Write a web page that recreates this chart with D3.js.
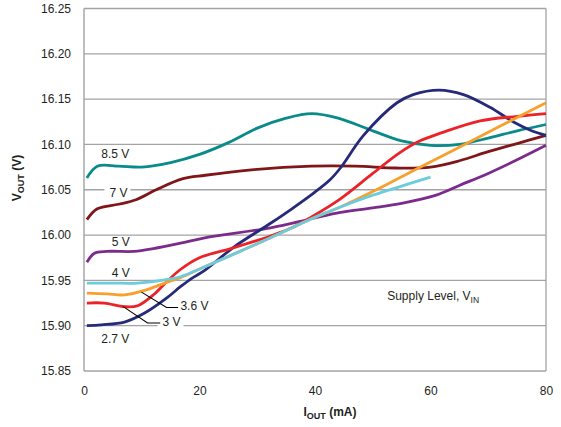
<!DOCTYPE html>
<html>
<head>
<meta charset="utf-8">
<script src="https://cdn.jsdelivr.net/npm/d3@7"></script>
<style>
  body { margin: 0; background: #fff; }
  svg { font-family: Arial, "Liberation Sans", sans-serif; }
</style>
</head>
<body>
<svg id="chart"></svg>
<script>
// supply levels and their curves, [I_OUT mA, V_OUT V]
const supplyLevels = ["8.5 V", "7 V", "5 V", "4 V", "3.6 V", "3 V", "2.7 V"];

const vin85 = [[0.5,16.063],[2.3,16.076],[6,16.076],[10,16.075],[15,16.080],[20,16.089],[25,16.102],[30,16.118],[35,16.129],[39.4,16.134],[44,16.129],[50,16.115],[55,16.104],[60,16.099],[65,16.100],[70,16.107],[75,16.115],[80,16.122]];
const vin7 = [[0.5,16.017],[2.3,16.029],[6,16.034],[9,16.039],[12.5,16.050],[17,16.062],[21,16.066],[29,16.072],[39.4,16.076],[47,16.076],[54,16.074],[60,16.075],[65,16.082],[70,16.092],[75,16.101],[80,16.110]];
const vin5 = [[0.5,15.970],[1.8,15.980],[4,15.982],[8.7,15.982],[12,15.985],[16.7,15.991],[20.9,15.997],[32.3,16.008],[39.4,16.018],[44.4,16.025],[50,16.030],[55,16.035],[61,16.044],[65.1,16.055],[70,16.068],[75,16.083],[80,16.099]];
const vin4 = [[0.5,15.947],[5,15.947],[9.3,15.947],[13.4,15.950],[16.7,15.954],[20.9,15.965],[27,15.982],[32.3,15.997],[39.4,16.018],[44.4,16.031],[50,16.044],[55,16.054],[60,16.064]];
const vin36 = [[0.5,15.936],[4,15.935],[7,15.934],[10.5,15.939],[14.4,15.948],[16.7,15.953],[20.9,15.965],[27,15.982],[32.3,15.997],[39.4,16.018],[44.4,16.031],[50,16.048],[57,16.071],[65,16.097],[72,16.120],[80,16.146]];
const vin3 = [[0.5,15.925],[3.5,15.925],[7,15.921],[9.3,15.922],[12.2,15.935],[14.4,15.949],[16.7,15.962],[20,15.975],[25.4,15.985],[32.3,15.999],[36,16.008],[39.4,16.020],[44.4,16.040],[50,16.068],[54.7,16.091],[58.2,16.104],[62,16.113],[68.6,16.126],[75,16.131],[80,16.134]];
const vin27 = [[0.5,15.900],[3,15.901],[7,15.904],[10.5,15.914],[14.4,15.931],[16.7,15.943],[18.6,15.952],[20.9,15.961],[26,15.987],[32.3,16.013],[36,16.029],[39.7,16.046],[42.6,16.061],[44.4,16.074],[48.4,16.110],[54.2,16.146],[57,16.155],[61.5,16.160],[65.7,16.155],[70.3,16.141],[74.3,16.125],[77.2,16.116],[80,16.110]];

const xTicks = [0, 20, 40, 60, 80];
const yTicks = [15.85, 15.90, 15.95, 16.00, 16.05, 16.10, 16.15, 16.20, 16.25];

// label anchors in data units: [text, mA, V]
const curveLabels = [["8.5 V",3.0,16.085],["7 V",4.4,16.042],["5 V",4.8,15.988],["4 V",4.8,15.954],["3.6 V",16.7,15.917],["3 V",13.6,15.900],["2.7 V",3.0,15.881]];
const leader36 = [[9.95,15.937],[14.3,15.920],[16.3,15.920]];
const leader3 = [[6.8,15.921],[11.0,15.903],[13.2,15.903]];

const colors = ["#0b8a8a", "#7f1719", "#7b2b8b", "#6ccbdc", "#f7a02c", "#ec2229", "#272a79"];
const series = [vin85, vin7, vin5, vin4, vin36, vin3, vin27];
const drawOrder = [0, 1, 2, 6, 5, 4, 3];

const width = 561, height = 427;
const margin = {top: 8.5, right: 15, bottom: 56, left: 84};

const svg = d3.select("#chart").attr("width", width).attr("height", height);

const x = d3.scaleLinear().domain([0, 80]).range([margin.left, width - margin.right]);
const y = d3.scaleLinear().domain([15.85, 16.25]).range([height - margin.bottom, margin.top]);

// gridlines
svg.append("g")
  .selectAll("line")
  .data(yTicks)
  .join("line")
  .attr("x1", margin.left).attr("x2", width - margin.right)
  .attr("y1", d => y(d)).attr("y2", d => y(d))
  .attr("stroke", "#a3a3a3").attr("stroke-width", 1.3);

// frame sides
svg.append("line")
  .attr("x1", x(0)).attr("x2", x(0)).attr("y1", y(16.25)).attr("y2", y(15.85))
  .attr("stroke", "#9a9a9a").attr("stroke-width", 1.3);
svg.append("line")
  .attr("x1", x(80)).attr("x2", x(80)).attr("y1", y(16.25)).attr("y2", y(15.85))
  .attr("stroke", "#a3a3a3").attr("stroke-width", 1.3);

// tick labels via d3 axes, domain & ticks hidden
const yAxis = svg.append("g")
  .attr("transform", `translate(${margin.left - 10},0)`)
  .call(d3.axisLeft(y).tickValues(yTicks).tickFormat(d3.format(".2f")).tickSize(0));
const xAxis = svg.append("g")
  .attr("transform", `translate(0,${height - margin.bottom + 12})`)
  .call(d3.axisBottom(x).tickValues(xTicks).tickSize(0));
[yAxis, xAxis].forEach(a => {
  a.select(".domain").remove();
  a.selectAll("text").attr("font-size", 12).attr("fill", "#231f20")
    .style("font-family", "Arial, 'Liberation Sans', sans-serif");
});
yAxis.selectAll("text").attr("dx", 0);

const labelG = svg.append("g");

const line = d3.line()
  .x(d => x(d[0]))
  .y(d => y(d[1]))
  .curve(d3.curveCatmullRom.alpha(0.5));

const lineG = svg.append("g");
drawOrder.forEach(i => {
  lineG.append("path")
    .attr("d", line(series[i]))
    .attr("fill", "none")
    .attr("stroke", colors[i])
    .attr("stroke-width", 2.8)
    .attr("stroke-linejoin", "round")
    .attr("stroke-linecap", "butt");
});

// curve labels, white box where they sit on a gridline
curveLabels.forEach(([t, lx, ly]) => {
  const txt = labelG.append("text")
    .attr("x", x(lx)).attr("y", y(ly))
    .attr("font-size", 12).attr("fill", "#231f20")
    .text(t);
  if (t === "7 V" || t === "3 V") {
    const b = txt.node().getBBox();
    labelG.insert("rect", "text")
      .attr("x", b.x - 5).attr("y", b.y)
      .attr("width", b.width + 8).attr("height", b.height)
      .attr("fill", "#fff");
  }
});
labelG.raise();

const leader = d3.line().x(d => x(d[0])).y(d => y(d[1]));
[leader36, leader3].forEach(l => {
  svg.append("path")
    .attr("d", leader(l))
    .attr("fill", "none")
    .attr("stroke", "#000")
    .attr("stroke-width", 1.1);
});

// legend note
const note = svg.append("text")
  .attr("x", x(52.5)).attr("y", y(15.928))
  .attr("font-size", 12).attr("fill", "#231f20");
note.append("tspan").text("Supply Level, V");
note.append("tspan").attr("font-size", 8.5).attr("dy", 3).text("IN");

// axis titles
const xt = svg.append("text")
  .attr("x", 330).attr("y", 416)
  .attr("text-anchor", "middle")
  .attr("font-size", 12).attr("font-weight", "bold").attr("fill", "#231f20");
xt.append("tspan").text("I");
xt.append("tspan").attr("font-size", 9).attr("dy", 3).text("OUT");
xt.append("tspan").attr("dy", -3).text(" (mA)");

const yt = svg.append("text")
  .attr("transform", "translate(21,178) rotate(-90)")
  .attr("text-anchor", "middle")
  .attr("font-size", 12).attr("font-weight", "bold").attr("fill", "#231f20");
yt.append("tspan").text("V");
yt.append("tspan").attr("font-size", 9).attr("dy", 3).text("OUT");
yt.append("tspan").attr("dy", -3).text(" (V)");
</script>
</body>
</html>
